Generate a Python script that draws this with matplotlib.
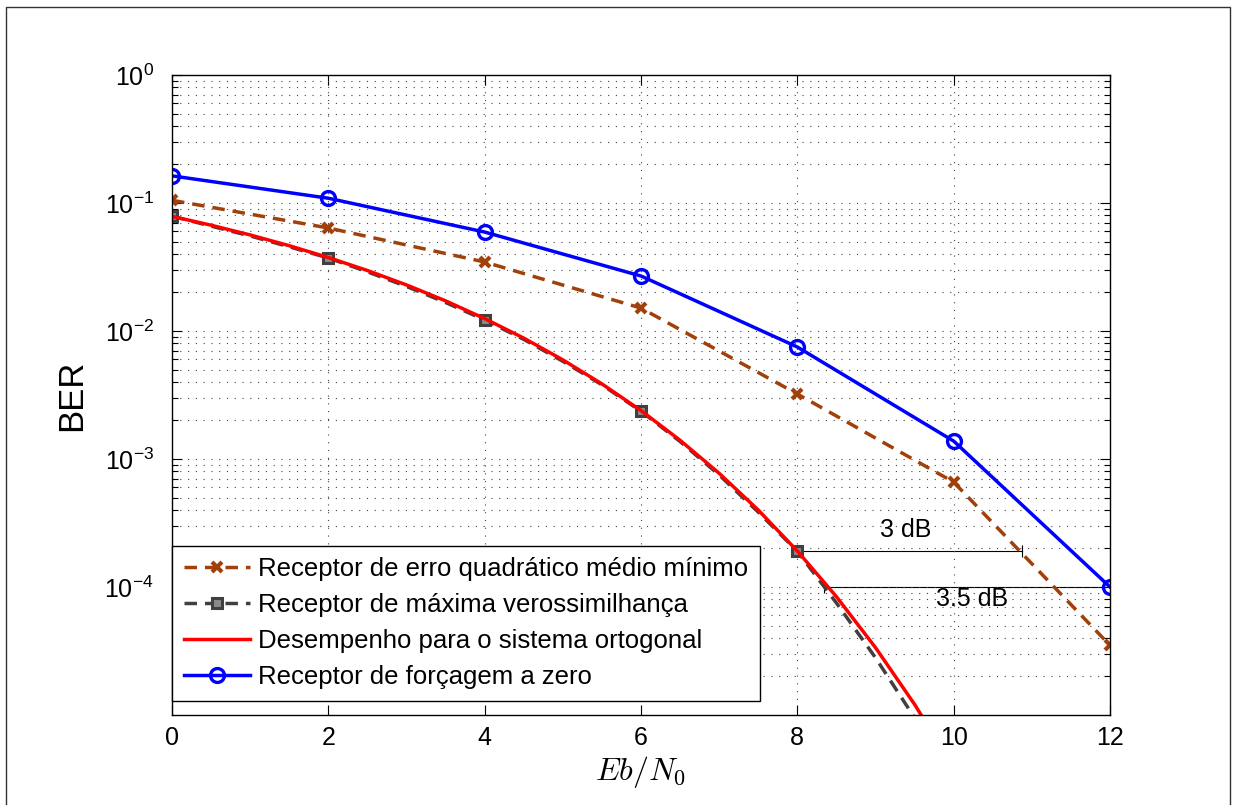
"""BER vs Eb/N0 for ZF, MMSE and ML receivers against the orthogonal bound."""

import matplotlib

matplotlib.use("Agg")
import matplotlib.pyplot as plt
from matplotlib.patches import Rectangle

plt.rcParams["font.family"] = ["Liberation Sans", "DejaVu Sans"]
plt.rcParams["mathtext.fontset"] = "cm"

# Simulated receivers, one point every 2 dB.
ebn0_sim = [0, 2, 4, 6, 8, 10, 12]
ber_zf = [0.163, 0.109, 0.0593, 0.0269, 0.0075, 0.00138, 1.0e-4]
ber_mmse = [0.105, 0.0638, 0.0346, 0.0151, 0.00322, 6.6e-4, 3.5e-5]

# ML receiver and orthogonal-system curve, read every 0.5 dB.
ebn0_fine = [0, 0.5, 1, 1.5, 2, 2.5, 3, 3.5, 4, 4.5, 5, 5.5, 6, 6.5, 7, 7.5, 8,
             8.5, 9, 9.5, 10]
ber_ml = [0.079, 0.066, 0.0553, 0.0455, 0.0372, 0.029, 0.0223, 0.0167, 0.0122,
          0.0086, 0.0058, 0.0038, 0.00236, 0.00137, 7.5e-4, 3.85e-4, 1.9e-4,
          7.5e-5, 2.8e-5, 9.5e-6, 3.0e-6]
ber_orth = [0.0786, 0.0671, 0.0563, 0.0464, 0.0375, 0.0297, 0.0229, 0.0172,
            0.0125, 0.0088, 0.00595, 0.00386, 0.00239, 0.0014, 7.73e-4,
            3.99e-4, 1.91e-4, 8.4e-5, 3.36e-5, 1.21e-5, 3.87e-6]

labels = [
    "Receptor de erro quadrático médio mínimo",
    "Receptor de máxima verossimilhança",
    "Desempenho para o sistema ortogonal",
    "Receptor de forçagem a zero",
]

# Gap annotations: (x start, x end, BER level, text, text x, text y)
gap_3db = (8.0, 10.87, 1.9e-4, "3 dB", 9.38, 2.8e-4)
gap_35db = (8.34, 12.0, 1.0e-4, "3.5 dB", 10.24, 8.0e-5)

BROWN = "#a0400a"
GREY = "#404040"

fig = plt.figure(figsize=(12.35, 8.05), dpi=100)
ax = fig.add_axes([0.1393, 0.1118, 0.7595, 0.795])

# figure frame as in the exported MATLAB figure
fig.patches.append(Rectangle((6 / 1235, -0.01), 1224 / 1235, 1 - 7 / 805 + 0.01,
                             transform=fig.transFigure, fill=False,
                             edgecolor="#333333", linewidth=1.0))

ax.semilogy(ebn0_sim, ber_mmse, color=BROWN, lw=2.5, dashes=(3.6, 2.3),
            marker="x", ms=6.5, mew=3, label=labels[0])
ax.semilogy(ebn0_fine, ber_ml, color=GREY, lw=2.5, dashes=(3.6, 2.3),
            marker="s", ms=7, mew=2.2, mfc="#8a8a8a", markevery=4,
            label=labels[1])
ax.semilogy(ebn0_fine, ber_orth, color="#ff0000", lw=2.5, label=labels[2])
ax.semilogy(ebn0_sim, ber_zf, color="#0000ff", lw=2.5, marker="o", ms=10,
            mew=2.4, mfc="none", label=labels[3])

for x0, x1, level, text, tx, ty in (gap_3db, gap_35db):
    ax.plot([x0, x1], [level, level], color="black", lw=0.8, marker="|",
            ms=9, mew=0.8, zorder=1)
    ax.text(tx, ty, text, fontsize=18, ha="center", va="center")

ax.set_xlim(0, 12)
ax.set_ylim(1e-5, 1)
ax.set_xticks(range(0, 13, 2))
ax.set_yticks([1e-4, 1e-3, 1e-2, 1e-1, 1e0])
ax.set_yticklabels([r"$\mathregular{10^{-4}}$", r"$\mathregular{10^{-3}}$",
                    r"$\mathregular{10^{-2}}$", r"$\mathregular{10^{-1}}$",
                    r"$\mathregular{10^{0}}$"])
ax.tick_params(which="both", direction="in", top=True, right=True,
               labelsize=18)
ax.tick_params(which="major", length=7, width=0.8)
ax.tick_params(which="minor", length=4, width=0.8)
ax.tick_params(axis="x", pad=8)
ax.tick_params(axis="y", pad=13)

ax.grid(True, which="major", linestyle=(0, (1, 6)), color="#444444", lw=0.8)
ax.grid(True, which="minor", axis="y", linestyle=(0, (1, 6)), color="#444444",
        lw=0.8)
for spine in ax.spines.values():
    spine.set_linewidth(1.0)

ax.set_xlabel(r"$Eb/N_0$", fontsize=23, labelpad=3)
ax.set_ylabel("BER", fontsize=25, labelpad=12)

leg = ax.legend(loc="lower left", bbox_to_anchor=(0, 0.022), borderaxespad=0,
                fontsize=18.5, fancybox=False, framealpha=1, edgecolor="black",
                handlelength=2.6, labelspacing=0.47, borderpad=0.45,
                handletextpad=0.3, numpoints=1)
leg.get_frame().set_linewidth(1.0)

fig.savefig("out.png", dpi=100)
